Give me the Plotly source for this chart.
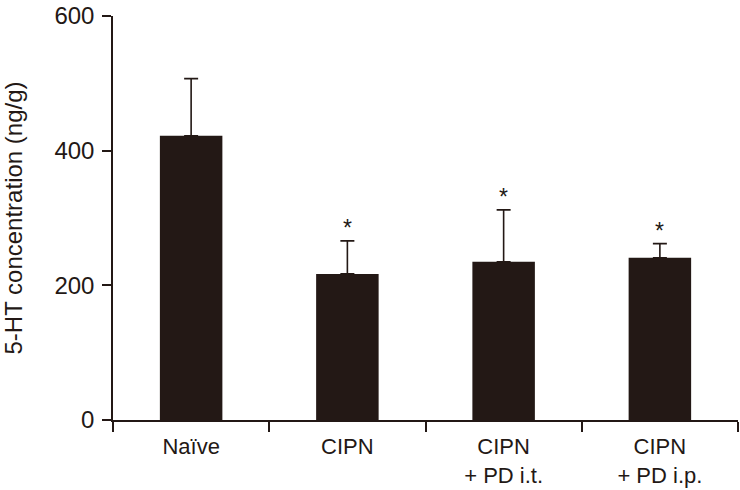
import plotly.graph_objects as go

categories = ["Naïve", "CIPN", "CIPN<br>+ PD i.t.", "CIPN<br>+ PD i.p."]
means = [422, 217, 235, 241]
errors_upper = [85, 49, 77, 21]
significant = [False, True, True, True]
y_ticks = [0, 200, 400, 600]

DARK = "#231815"
FONT = "Liberation Sans, Arial, sans-serif"

fig = go.Figure()
fig.add_trace(go.Bar(
    x=categories,
    y=means,
    marker=dict(color=DARK, line=dict(width=0)),
    error_y=dict(type="data", symmetric=False, array=errors_upper,
                 arrayminus=[0] * len(means), color=DARK, thickness=1.6, width=7),
    width=0.4,
))

for c, m, e, s in zip(categories, means, errors_upper, significant):
    if s:
        fig.add_annotation(x=c, y=m + e, text="*", showarrow=False,
                           yshift=13, font=dict(size=23, color=DARK, family=FONT))

fig.update_layout(
    width=740, height=490,
    margin=dict(l=113, r=2, t=9, b=69),
    plot_bgcolor="white", paper_bgcolor="white",
    showlegend=False,
    font=dict(family=FONT, size=22, color=DARK),
)
fig.update_xaxes(
    showline=True, linecolor=DARK, linewidth=1.5,
    ticks="outside", ticklen=10, tickwidth=1.5, tickcolor=DARK,
    tickson="boundaries", range=[-0.5, 3.5],
    tickfont=dict(size=22, color=DARK), showgrid=False,
    ticklabelstandoff=6,
)
fig.update_yaxes(
    range=[0, 600], tickvals=y_ticks,
    showline=True, linecolor=DARK, linewidth=1.5,
    ticks="outside", ticklen=9, tickwidth=1.5, tickcolor=DARK,
    tickfont=dict(size=24, color=DARK), showgrid=False, zeroline=False,
    ticklabeloverflow="allow", ticklabelstandoff=3,
    title=dict(text="5-HT concentration (ng/g)", font=dict(size=24, color=DARK), standoff=26),
)

fig.write_html("out.html", config={"displayModeBar": False},
               post_script="document.body.style.margin='0';")
